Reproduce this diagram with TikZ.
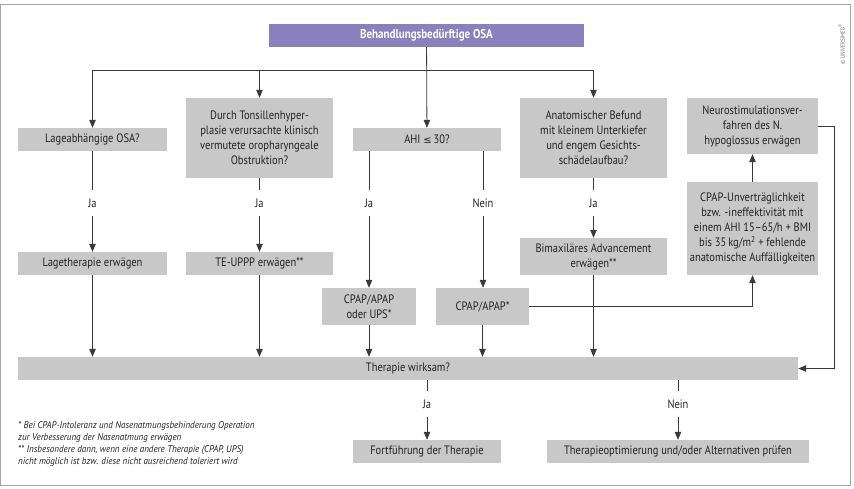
\documentclass[tikz,border=0pt]{standalone}
\usepackage{fontspec}
\setmainfont{PT Sans}[FakeStretch=0.86]
\newfontfamily\fnfont{PT Sans}[FakeStretch=0.92]
\newfontfamily\symfont{DejaVu Sans}
\usetikzlibrary{arrows.meta}
\definecolor{boxgray}{HTML}{C8C8C8}
\definecolor{purp}{HTML}{8B80BE}
\definecolor{linec}{HTML}{3A3A3A}
\definecolor{txt}{HTML}{222222}
\definecolor{framec}{HTML}{A5A5A5}
\tikzset{
  box/.style={fill=boxgray, draw=none, align=center, inner sep=1pt, text=txt,
    font=\fontsize{12.2}{15}\selectfont},
  topbox/.style={fill=purp, draw=none, text=white, font=\fontsize{12.8}{15}\selectfont\bfseries},
  lbl/.style={fill=white, inner sep=1pt, minimum height=25pt, text=txt,
    font=\fontsize{12.2}{15}\selectfont},
  conn/.style={draw=linec, line width=0.8pt},
  arr/.style={conn, -{Triangle[length=8pt,width=6.5pt]}},
}
\begin{document}
\begin{tikzpicture}[x=1pt,y=-1pt]
\useasboundingbox (0,0) rectangle (854,488);
\draw[framec, line width=1pt] (0.5,4.5) rectangle (850.5,485.5);
\node[rotate=90, text=black!55, font=\fontsize{6}{7}\selectfont] (copy) at (842,44) {© UNIVERSIMED\textsuperscript{®}};

\node[topbox, minimum width=315pt, minimum height=23pt] (top) at (426.5,35.5) {Behandlungsbedürftige OSA};

\node[box, minimum width=149pt, minimum height=23pt] (lage) at (92.5,139.5) {Lageabhängige OSA?};
\node[box, minimum width=147pt, minimum height=80pt] (tons) at (259.5,138) {Durch Tonsillenhyper-\\plasie verursachte klinisch\\vermutete oropharyngeale\\Obstruktion?};
\node[box, minimum width=148pt, minimum height=23pt] (ahi) at (427,139.5) {AHI {\symfont\fontsize{10}{12}\selectfont ≤}\,30?};
\node[box, minimum width=147pt, minimum height=80pt] (anat) at (593.5,138) {Anatomischer Befund\\mit kleinem Unterkiefer\\und engem Gesichts-\\schädelaufbau?};
\node[box, minimum width=131pt, minimum height=56pt] (neuro) at (752.5,126) {Neurostimulationsver-\\fahren des N.\\hypoglossus erwägen};
\node[box, minimum width=131pt, minimum height=93pt] (cpapu) at (752.5,228.5) {CPAP-Unverträglichkeit\\bzw. -ineffektivität mit\\einem AHI 15–65/h + BMI\\bis 35\,kg/m\textsuperscript{2} + fehlende\\anatomische Auffälligkeiten};

\node[box, minimum width=149pt, minimum height=23pt] (lageth) at (92.5,263.5) {Lagetherapie erwägen};
\node[box, minimum width=147pt, minimum height=23pt] (teuppp) at (259.5,263.5) {TE-UPPP erwägen**};
\node[box, minimum width=147pt, minimum height=37pt] (bimax) at (593.5,256.5) {Bimaxiläres Advancement\\erwägen**};
\node[box, minimum width=94pt, minimum height=37pt] (cpapups) at (369,306.5) {CPAP/APAP\\oder UPS*};
\node[box, minimum width=93pt, minimum height=37pt] (cpapapap) at (482.5,306.5) {CPAP/APAP*};

\node[box, minimum width=780pt, minimum height=23pt] (wirksam) at (408,368.5) {Therapie wirksam?};
\node[box, minimum width=148pt, minimum height=23pt] (fort) at (427,451.5) {Fortführung der Therapie};
\node[box, minimum width=262pt, minimum height=23pt] (optim) at (678,451.5) {Therapieoptimierung und/oder Alternativen prüfen};

% labels
\node[lbl] (jaL) at (92.5,203) {Ja};
\node[lbl] (jaT) at (259.5,203) {Ja};
\node[lbl] (jaA) at (369,203) {Ja};
\node[lbl] (neinA) at (483,203) {Nein};
\node[lbl] (jaB) at (593.5,203) {Ja};
\node[lbl] (jaW) at (427,404) {Ja};
\node[lbl] (neinW) at (678,404) {Nein};

% footnotes
\node[anchor=north west, align=left, inner sep=0pt, text=txt, font=\fnfont\itshape\fontsize{9.8}{12}\selectfont] (fn) at (18,421)
 {* Bei CPAP-Intoleranz und Nasenatmungsbehinderung Operation\\zur Verbesserung der Nasenatmung erwägen\\** Insbesondere dann, wenn eine andere Therapie (CPAP, UPS)\\nicht möglich ist bzw. diese nicht ausreichend toleriert wird};

% top split
\coordinate (split) at (427,70);
\draw[conn] (split -| lage) -- (split -| anat);
\draw[arr] (top) -- (ahi);
\draw[arr] (split -| lage) -- (lage);
\draw[arr] (split -| tons) -- (tons);
\draw[arr] (split -| anat) -- (anat);

% Ja / Nein branches
\draw[conn] (lage) -- (jaL);
\draw[arr] (jaL) -- (lageth);
\draw[conn] (tons) -- (jaT);
\draw[arr] (jaT) -- (teuppp);
\draw[conn] (ahi.south -| jaA) -- (jaA);
\draw[arr] (jaA) -- (cpapups);
\draw[conn] (ahi.south -| neinA) -- (neinA);
\draw[arr] (neinA) -- (cpapapap.north -| neinA);
\draw[conn] (anat) -- (jaB);
\draw[arr] (jaB) -- (bimax);

% into Therapie wirksam
\draw[arr] (lageth) -- (lageth |- wirksam.north);
\draw[arr] (teuppp) -- (teuppp |- wirksam.north);
\draw[arr] (cpapups) -- (cpapups |- wirksam.north);
\draw[arr] (cpapapap) -- (cpapapap |- wirksam.north);
\draw[arr] (bimax) -- (bimax |- wirksam.north);

% right side
\draw[arr] (cpapapap.east) -| (cpapu.south);
\draw[arr] (cpapu) -- (neuro);
\coordinate (fb) at (834,0);
\draw[arr] (neuro.east) -- (neuro.east -| fb) |- (wirksam.east);

% bottom
\draw[conn] (wirksam.south -| jaW) -- (jaW);
\draw[arr] (jaW) -- (fort);
\draw[conn] (wirksam.south -| neinW) -- (neinW);
\draw[arr] (neinW) -- (optim);
\end{tikzpicture}
\end{document}
